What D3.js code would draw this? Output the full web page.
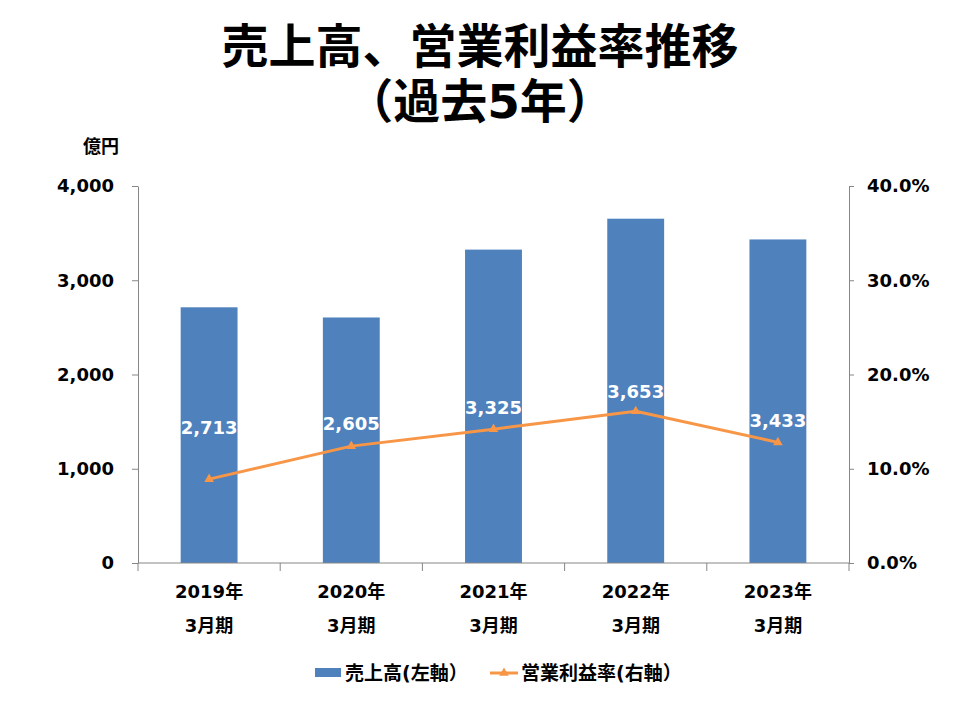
<!DOCTYPE html>
<html><head><meta charset="utf-8">
<script src="https://cdn.jsdelivr.net/npm/d3@7"></script>
<style>
body{margin:0;background:#fff;}
svg text{font-family:"DejaVu Sans","Noto Sans CJK JP",sans-serif;font-weight:bold;}
</style></head>
<body><svg id="c" width="960" height="720"></svg>
<script>
const years = ["2019年","2020年","2021年","2022年","2023年"];
const periodLabel = ["3月期","3月期","3月期","3月期","3月期"];
const sales = [2713, 2605, 3325, 3653, 3433];
const margin = [8.9, 12.4, 14.2, 16.1, 12.8];
const leftTicks = [0, 1000, 2000, 3000, 4000];
const rightTicks = [0, 10, 20, 30, 40];
const seriesNames = ["売上高(左軸）", "営業利益率(右軸）"];
const titleLines = ["売上高、営業利益率推移", "（過去5年）"];
const unitLabel = "億円";

// layout (not data)
const labelOffsets = [-51, -22, -21, -19, -21];
const L = 138, R = 849, T = 186, B = 563;
const blue = "#4F81BD", orange = "#F79646", axisCol = "#868686";

const svg = d3.select("#c");
const x = d3.scaleBand().domain(years).range([L, R]).paddingInner(0.6).paddingOuter(0.3);
const xb = d3.scaleBand().domain(years).range([L, R]);
const y = d3.scaleLinear().domain([0, 4000]).range([B, T]);
const yr = d3.scaleLinear().domain([0, 40]).range([B, T]);

// titles
svg.selectAll("text.title").data(titleLines).join("text")
  .attr("x", 480).attr("y", (d,i)=> 63 + i*55)
  .attr("text-anchor","middle").attr("font-size", 47).attr("fill","#000")
  .text(d=>d);

svg.append("text").attr("x", 119).attr("y", 153).attr("text-anchor","end")
  .attr("font-size", 18).text(unitLabel);

// bars
svg.selectAll("rect.bar").data(sales).join("rect")
  .attr("x", (d,i)=> x(years[i])).attr("width", x.bandwidth())
  .attr("y", d=> y(d)).attr("height", d=> B - y(d)).attr("fill", blue);

// left axis
const ga = svg.append("g").attr("transform", `translate(${L},0)`)
  .call(d3.axisLeft(y).tickValues(leftTicks).tickFormat(d3.format(",")).tickSize(6).tickSizeOuter(0).tickPadding(18));
ga.select(".domain").attr("stroke", axisCol);
ga.selectAll(".tick line").attr("stroke", axisCol);
ga.selectAll(".tick text").attr("font-size", 18).attr("fill","#000")
  .style("font-family","DejaVu Sans,sans-serif").style("font-weight","bold");

// right axis
const gr = svg.append("g").attr("transform", `translate(${R},0)`)
  .call(d3.axisRight(yr).tickValues(rightTicks).tickFormat(d=> d.toFixed(1)+"%").tickSize(5).tickSizeOuter(0).tickPadding(13));
gr.select(".domain").attr("stroke", axisCol);
gr.selectAll(".tick line").attr("stroke", axisCol);
gr.selectAll(".tick text").attr("font-size", 18).attr("fill","#000")
  .style("font-family","DejaVu Sans,sans-serif").style("font-weight","bold");

// x axis
const gx = svg.append("g").attr("transform", `translate(0,${B})`)
  .call(d3.axisBottom(xb).tickSize(0).tickFormat(""));
gx.select(".domain").attr("stroke", axisCol).attr("d", `M${L},0H${R}`);
const bounds = years.map(d=> xb(d)).concat([R]);
gx.selectAll("line.bt").data(bounds).join("line")
  .attr("x1", d=>d).attr("x2", d=>d).attr("y1",0).attr("y2",8).attr("stroke", axisCol);
svg.selectAll("text.yr").data(years).join("text")
  .attr("x", d=> xb(d) + xb.bandwidth()/2).attr("y", 598).attr("text-anchor","middle")
  .attr("font-size", 18).text(d=>d);
svg.selectAll("text.pd").data(periodLabel).join("text")
  .attr("x", (d,i)=> xb(years[i]) + xb.bandwidth()/2).attr("y", 632).attr("text-anchor","middle")
  .attr("font-size", 18).text(d=>d);

// line
const cx = (i)=> xb(years[i]) + xb.bandwidth()/2;
svg.append("path").datum(margin)
  .attr("d", d3.line().x((d,i)=>cx(i)).y(d=>yr(d)))
  .attr("fill","none").attr("stroke", orange).attr("stroke-width", 3).attr("stroke-linejoin","round");
const tri = d3.symbol().type(d3.symbolTriangle).size(40);
svg.selectAll("path.mk").data(margin).join("path")
  .attr("d", tri).attr("transform", (d,i)=> `translate(${cx(i)},${yr(d)})`).attr("fill", orange);

// data labels
svg.selectAll("text.lbl").data(sales).join("text")
  .attr("x", (d,i)=> cx(i)).attr("y", (d,i)=> yr(margin[i]) + labelOffsets[i] + 6)
  .attr("text-anchor","middle").attr("font-size", 18).attr("fill","#fff")
  .text(d=> d3.format(",")(d));

// legend
const lg = svg.append("g");
lg.append("rect").attr("x", 315).attr("y", 668).attr("width", 26).attr("height", 9).attr("fill", blue);
lg.append("text").attr("x", 345).attr("y", 680).attr("font-size", 19).text(seriesNames[0]);
lg.append("line").attr("x1", 490).attr("x2", 518).attr("y1", 673).attr("y2", 673).attr("stroke", orange).attr("stroke-width", 3);
lg.append("path").attr("d", tri).attr("transform","translate(504,673)").attr("fill", orange);
lg.append("text").attr("x", 521).attr("y", 680).attr("font-size", 19).text(seriesNames[1]);
</script></body></html>
